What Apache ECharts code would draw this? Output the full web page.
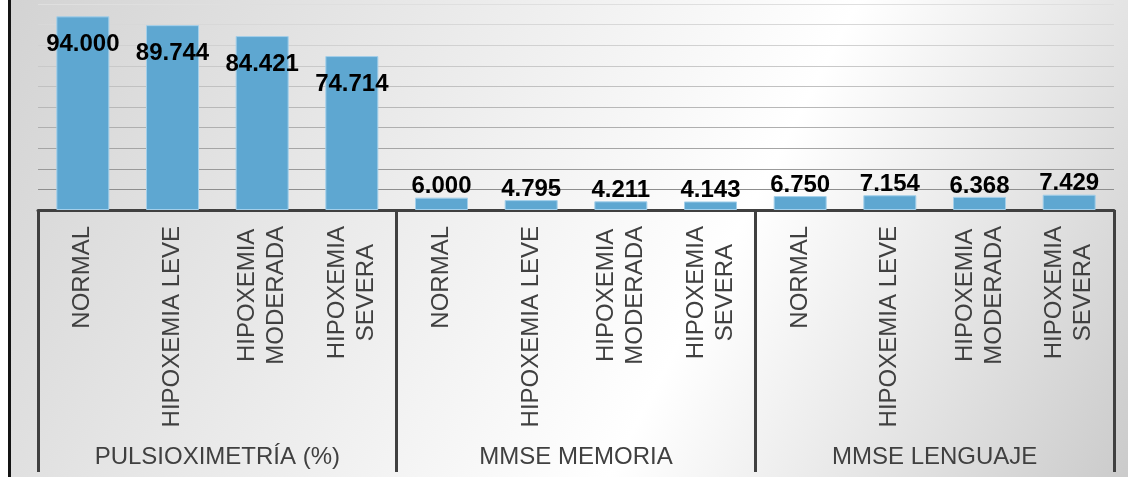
<!DOCTYPE html>
<html>
<head>
<meta charset="utf-8">
<script src="https://cdn.jsdelivr.net/npm/echarts@6/dist/echarts.min.js"></script>
<style>
  html, body { margin: 0; padding: 0; background: #fff; }
  #chart {
    position: absolute;
    left: 8px;
    top: 0;
    width: 1117px;
    height: 477px;
    border-left: 3px solid #141414;
  }
</style>
</head>
<body>
<div id="chart"></div>
<script>
// categories (two levels)
var groups = ['PULSIOXIMETRÍA (%)', 'MMSE MEMORIA', 'MMSE LENGUAJE']
var levels = ['NORMAL', 'HIPOXEMIA LEVE', 'HIPOXEMIA\nMODERADA', 'HIPOXEMIA\nSEVERA']

// values per group
var pulsioximetria = [94.000, 89.744, 84.421, 74.714]
var memoria = [6.000, 4.795, 4.211, 4.143]
var lenguaje = [6.750, 7.154, 6.368, 7.429]

var categories = []
groups.forEach(function() {
  categories = categories.concat(levels)
})
var values = pulsioximetria.concat(memoria, lenguaje)

var chart = echarts.init(document.getElementById('chart'))

chart.setOption({
  animation: false,
  backgroundColor: {
    type: 'linear',
    x: 0, y: 0, x2: 0.96, y2: 1.18,
    colorStops: [
      { offset: 0, color: '#d3d3d3' },
      { offset: 0.62, color: '#ffffff' },
      { offset: 1, color: '#cbcbcb' }
    ]
  },
  textStyle: {
    fontFamily: 'Liberation Sans, Arial, sans-serif'
  },
  grid: {
    left: 27,
    right: 14,
    top: 4,
    bottom: 267
  },
  xAxis: [{
    type: 'category',
    position: 'bottom',
    data: categories,
    axisLine: { show: false },
    axisTick: { show: false },
    axisLabel: {
      interval: 0,
      rotate: 90,
      margin: 16,
      // center every line inside the rotated block
      formatter: function(val) {
        return val.split('\n').map(function(s) {
          return '{c|' + s + '}'
        }).join('\n')
      },
      rich: {
        c: {
          align: 'center',
          fontSize: 24,
          lineHeight: 29,
          color: '#404040'
        }
      }
    }
  }, {
    type: 'category',
    position: 'bottom',
    data: groups,
    axisLine: {
      show: true,
      lineStyle: { color: '#404040', width: 3 }
    },
    axisTick: {
      show: true,
      interval: 0,
      length: 262,
      lineStyle: { color: '#404040', width: 3 }
    },
    axisLabel: {
      interval: 0,
      margin: 235,
      fontSize: 24,
      color: '#404040'
    }
  }],
  yAxis: {
    type: 'value',
    min: 0,
    max: 100,
    interval: 10,
    axisLine: { show: false },
    axisTick: { show: false },
    axisLabel: { show: false },
    splitLine: {
      lineStyle: {
        // gridlines fade from dark (bottom) to light (top)
        color: ['#888888', '#8e8e8e', '#9a9a9a', '#a5a5a5', '#afafaf', '#b8b8b8',
          '#c1c1c1', '#c9c9c9', '#d1d1d1', '#d8d8d8', '#dfdfdf'],
        width: 1
      }
    }
  },
  series: [{
    type: 'bar',
    xAxisIndex: 0,
    barWidth: 53,
    itemStyle: {
      color: '#5ea7d1',
      borderColor: '#a3cfea',
      borderWidth: 1
    },
    label: {
      show: true,
      color: '#000',
      fontWeight: 'bold',
      fontSize: 24,
      formatter: function(p) {
        return p.value.toFixed(3)
      }
    },
    data: values.map(function(v) {
      if (v > 50) {
        return { value: v, label: { position: 'insideTop', offset: [0, 11] } }
      }
      return { value: v, label: { position: 'top', distance: -1 } }
    })
  }]
})
</script>
</body>
</html>
